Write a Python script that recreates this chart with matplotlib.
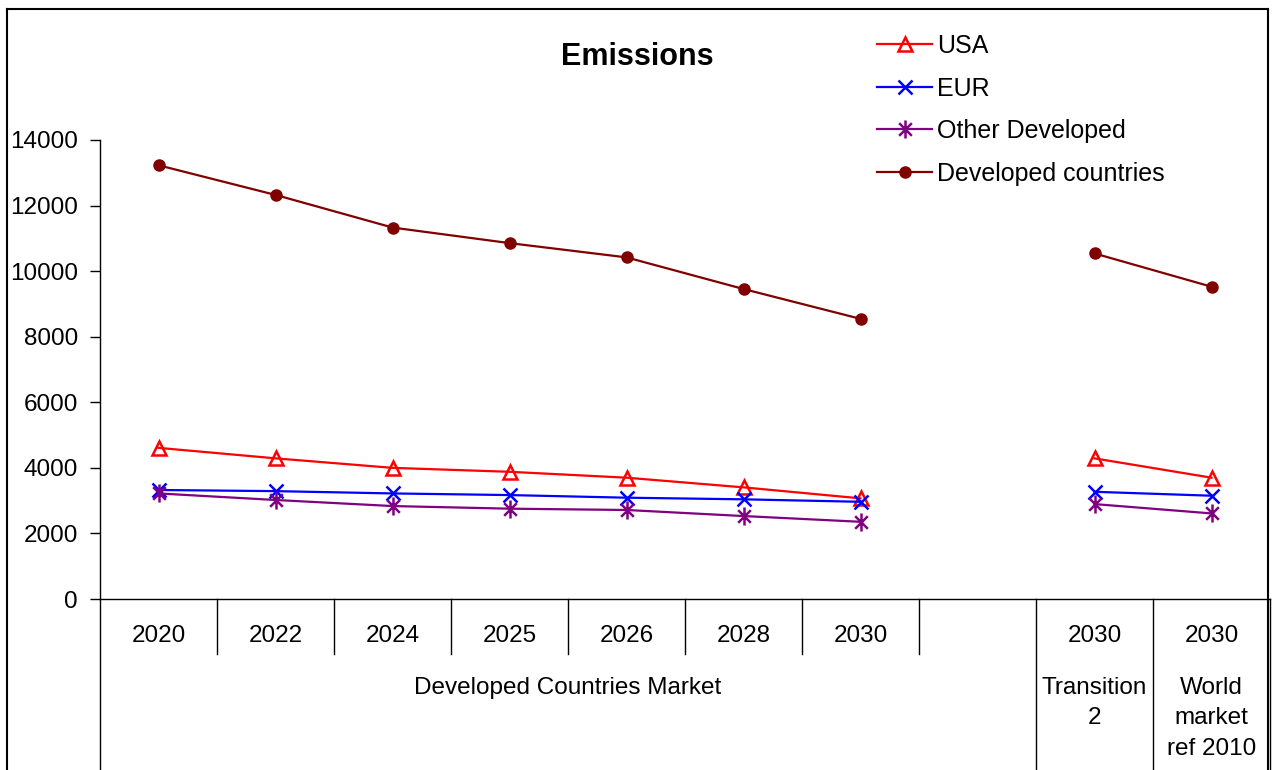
import numpy as np
import matplotlib
matplotlib.use("Agg")
import matplotlib.pyplot as plt
from matplotlib.path import Path
from matplotlib.lines import Line2D

plt.rcParams['font.family'] = ['Liberation Sans', 'DejaVu Sans']

# Категорії по осі X (порожній слот розділяє групи)
years = ['2020', '2022', '2024', '2025', '2026', '2028', '2030', '', '2030', '2030']
groups = ['Developed Countries Market', 'Transition\n2', 'World\nmarket\nref 2010']
group_spans = [(0, 7), (8, 8), (9, 9)]

# Викиди по регіонах
usa = [4610, 4290, 4000, 3880, 3700, 3405, 3070, np.nan, 4290, 3700]
eur = [3325, 3290, 3220, 3170, 3090, 3040, 2965, np.nan, 3270, 3150]
other = [3220, 3020, 2835, 2755, 2715, 2530, 2355, np.nan, 2895, 2610]
developed = [13230, 12325, 11330, 10855, 10420, 9455, 8545, np.nan, 10540, 9525]

W, H = 1275, 770
fig = plt.figure(figsize=(W / 100, H / 100), dpi=100)

# Рамка навколо рисунка (без нижньої лінії)
for xs, ys in [([7, 7], [0, 761]), ([7, 1268], [761, 761]), ([1268, 1268], [761, 0])]:
    fig.add_artist(Line2D([x / W for x in xs], [y / H for y in ys], color='black', lw=1.5,
                          transform=fig.transFigure))

ax = fig.add_axes([100 / W, 171 / H, 1170 / W, 459 / H])

asterisk = Path([(0, -1), (0, 1), (-0.7, -0.7), (0.7, 0.7), (-0.7, 0.7), (0.7, -0.7)],
                [Path.MOVETO, Path.LINETO, Path.MOVETO, Path.LINETO, Path.MOVETO, Path.LINETO])

x = np.arange(len(years))
ax.plot(x, usa, color='#FF0000', lw=1.6, marker='^', ms=10, mfc='none', mew=1.8, label='USA')
ax.plot(x, eur, color='#0000FF', lw=1.6, marker='x', ms=10, mew=1.8, label='EUR')
ax.plot(x, other, color='#800080', lw=1.6, marker=asterisk, ms=13, mew=1.8, label='Other Developed')
ax.plot(x, developed, color='#800000', lw=1.6, marker='o', ms=8, label='Developed countries')

ax.set_xlim(-0.5, len(years) - 0.5)
ax.set_ylim(0, 14000)
ax.set_yticks(np.arange(0, 14001, 2000))
ax.tick_params(axis='y', labelsize=17.5, length=7, width=1, pad=9)
ax.set_xticks([])
for s in ['top', 'right']:
    ax.spines[s].set_visible(False)
ax.spines['left'].set_linewidth(1)
ax.spines['bottom'].set_linewidth(1)

trans = ax.get_xaxis_transform()


def ay(py):
    # піксельна координата y -> координата осей
    return (599 - py) / 459


# Підписи років та вертикальні роздільники
for i, lab in enumerate(years):
    if lab:
        ax.text(i, ay(636), lab, transform=trans, ha='center', va='center', fontsize=17.5)
for b in np.arange(0.5, 7.0, 1.0):
    ax.plot([b, b], [0, ay(654)], transform=trans, color='black', lw=1, clip_on=False)
for b in [-0.5, 7.5, 8.5, 9.5]:
    ax.plot([b, b], [0, ay(775)], transform=trans, color='black', lw=1, clip_on=False)

# Підписи груп
for lab, (a, b) in zip(groups, group_spans):
    ax.text((a + b) / 2, ay(677), lab, transform=trans, ha='center', va='top',
            fontsize=17.5, linespacing=1.5)

fig.text(0.5, 1 - 57 / H, 'Emissions', ha='center', va='center', fontsize=22, fontweight='bold')

ax.legend(loc='upper left', bbox_to_anchor=(867 / W, 1 - 24 / H), bbox_transform=fig.transFigure,
          frameon=False, fontsize=18, handlelength=2.2, handletextpad=0.2, labelspacing=0.74,
          borderaxespad=0)

fig.savefig('out.png', dpi=100)
